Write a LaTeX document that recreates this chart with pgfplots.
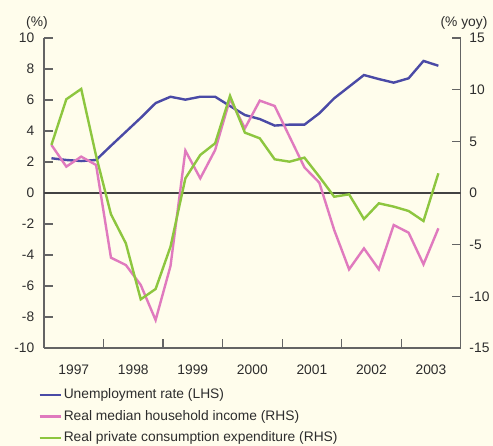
\documentclass[border=0pt]{standalone}
\usepackage{pgfplots}
\pgfplotsset{compat=1.18}
\usepackage{pgfplotstable}
\usepackage{fontspec}
\setmainfont{Liberation Sans}
\definecolor{bg}{RGB}{255,253,236}
\definecolor{cblue}{RGB}{74,74,166}
\definecolor{cpink}{RGB}{224,122,190}
\definecolor{cgreen}{RGB}{141,198,63}
\definecolor{axgray}{RGB}{100,100,100}
\definecolor{txt}{RGB}{45,45,45}

\pgfplotstableread{
x unemp income cons
1997.125 2.24 4.65 4.65
1997.375 2.13 2.55 9.07
1997.625 2.06 3.52 10.07
1997.875 2.13 2.71 3.6
1998.125 3.05 -6.26 -2.06
1998.375 3.95 -6.97 -4.87
1998.625 4.85 -8.9 -10.29
1998.875 5.80 -12.3 -9.29
1999.125 6.21 -7.07 -5.2
1999.375 6.02 4.10 1.42
1999.625 6.21 1.42 3.68
1999.875 6.21 4.16 4.81
2000.125 5.61 9.1 9.4
2000.375 5.03 6.26 5.84
2000.625 4.77 8.94 5.29
2000.875 4.35 8.42 3.26
2001.125 4.41 5.45 3.03
2001.375 4.41 2.48 3.42
2001.625 5.14 1.0 1.58
2001.875 6.11 -3.58 -0.36
2002.125 6.86 -7.39 -0.13
2002.375 7.61 -5.36 -2.52
2002.625 7.35 -7.39 -1.0
2002.875 7.12 -3.10 -1.32
2003.125 7.40 -3.84 -1.74
2003.375 8.52 -6.9 -2.71
2003.625 8.21 -3.42 1.9
}\datatable

\begin{document}
\fontsize{13.8}{16}\selectfont
\begin{tikzpicture}
\fill[bg, use as bounding box] (-44pt,-98pt) rectangle (449pt,348pt);
\pgfplotsset{
  every axis/.append style={
    scale only axis, width=416.7pt, height=310pt,
    at={(0,0)}, anchor=south west,
    xmin=1997, xmax=2004,
    tick align=inside,
    axis line style={axgray, line width=1.3pt},
    tick style={axgray, line width=1.1pt},
    major tick length=9pt, minor tick length=4.5pt,
    tick label style={font=\fontsize{13.8}{16}\selectfont, text=txt},
    /pgf/number format/assume math mode=true,
  }
}
\begin{axis}[
  ymin=-10, ymax=10,
  axis x line*=bottom, axis y line*=left,
  ytick={-10,-8,...,10},
  yticklabel style={xshift=-5pt},
  xtick={1997,...,2004}, xticklabels={},
  minor x tick num=3,
  extra x ticks={1997.5,1998.5,...,2003.5},
  extra x tick labels={1997,1998,1999,2000,2001,2002,2003},
  extra x tick style={major tick length=0pt, xticklabel style={yshift=-12pt}},
  clip=false,
]
\addplot[cblue, line width=2.4pt] table[x=x, y=unemp] {\datatable};
\node[text=txt, font=\fontsize{13.8}{16}\selectfont, anchor=base, inner sep=1pt] at (axis description cs:-0.017,1.037) {(\%)};
\node[text=txt, font=\fontsize{13.8}{16}\selectfont, anchor=base, inner sep=1pt] at (axis description cs:1.008,1.037) {(\% yoy)};
\end{axis}
\begin{axis}[
  ymin=-15, ymax=15,
  axis x line=none, axis y line*=right,
  ytick={-15,-10,...,15},
  yticklabel style={xshift=4pt},
  legend style={at={(axis description cs:-0.014,-0.125)}, anchor=north west,
    draw=none, fill=none, font=\fontsize{13.8}{16}\selectfont, text=txt,
    row sep=5.3pt, inner sep=0pt},
  legend cell align=left,
  legend image code/.code={\draw[#1] (0pt,0pt) -- (21pt,0pt);},
]
\addlegendimage{cblue, line width=2.4pt}
\addlegendentry{Unemployment rate (LHS)}
\addplot[txt!90, line width=1.8pt, forget plot] coordinates {(1997,0) (2004,0)};
\addplot[cpink, line width=2.4pt] table[x=x, y=income] {\datatable};
\addlegendentry{Real median household income (RHS)}
\addplot[cgreen, line width=2.4pt] table[x=x, y=cons] {\datatable};
\addlegendentry{Real private consumption expenditure (RHS)}
\end{axis}
\end{tikzpicture}
\end{document}
